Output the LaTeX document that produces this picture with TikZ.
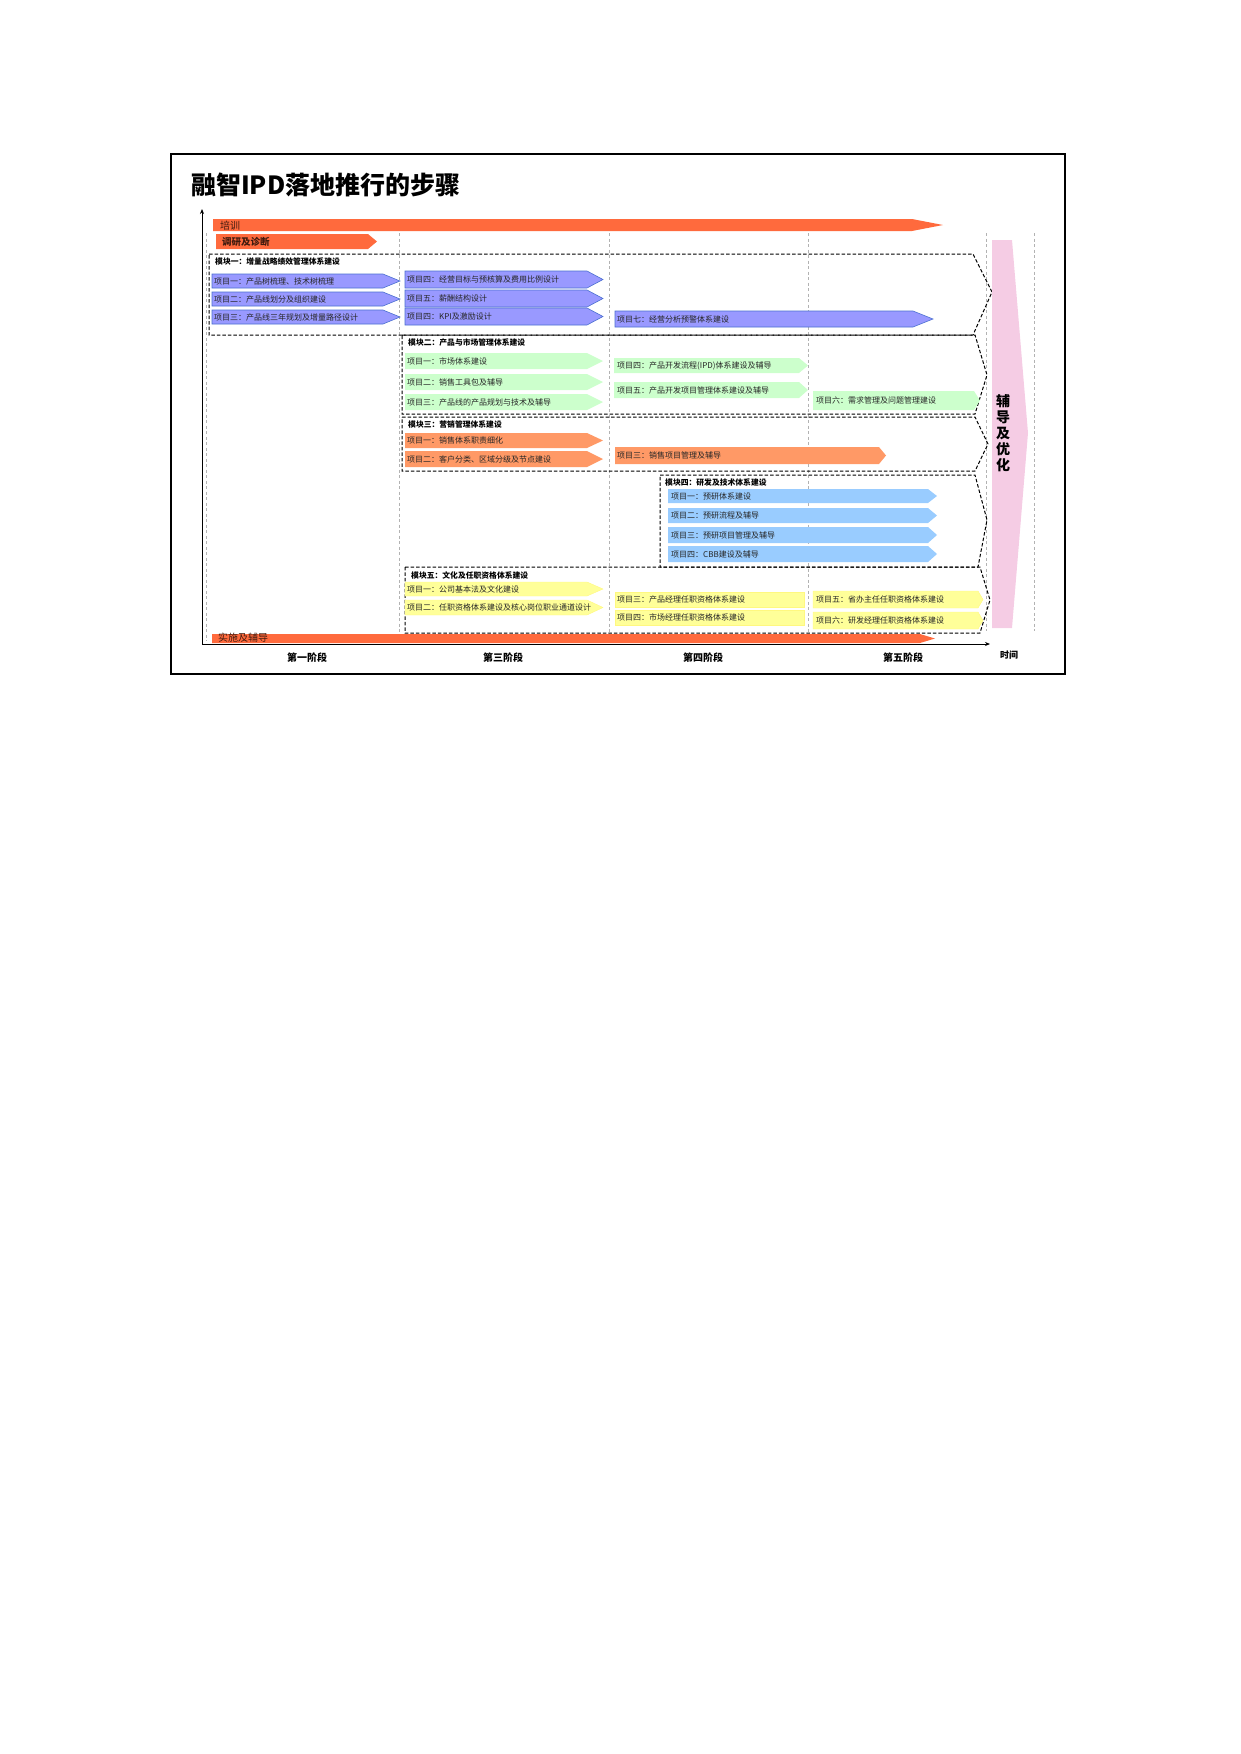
\documentclass[tikz,border=0pt]{standalone}
\usepackage{fontspec}
\setmainfont{Noto Sans CJK SC}
\usepackage{tikz}
\usetikzlibrary{backgrounds,arrows.meta}
\usepackage{xcolor}
\definecolor{barred}{HTML}{FF6A3D}
\definecolor{itemblue}{HTML}{9999FF}
\definecolor{lineblue}{HTML}{4A6FD0}
\definecolor{itemgreen}{HTML}{CCFFCC}
\definecolor{itemorange}{HTML}{FF9966}
\definecolor{itemsky}{HTML}{99CCFF}
\definecolor{itemyellow}{HTML}{FFFF99}
\definecolor{pinkbar}{HTML}{F5CCE4}

\begin{document}
\begin{tikzpicture}[x=1pt,y=-1pt,
          every node/.style={font=\fontsize{8}{9.5}\selectfont,inner sep=1pt},
          itemtext/.style={anchor=west,text=black!85},
          modtitle/.style={anchor=west,font=\fontsize{7.8}{9}\selectfont\bfseries},
          modbox/.style={draw=black,line width=1pt,dash pattern=on 3.5pt off 2pt},
          stagesep/.style={draw=gray!60,line width=0.6pt,dash pattern=on 3pt off 2.5pt},
          phase/.style={font=\fontsize{10}{12}\selectfont\bfseries},
          bartext/.style={anchor=west,text=barred!25!black,font=\fontsize{10}{12}\selectfont},
          blueitem/.style={fill=itemblue,draw=lineblue,line width=0.6pt},
          greenitem/.style={fill=itemgreen},
          orangeitem/.style={fill=itemorange},
          skyitem/.style={fill=itemsky},
          yellowitem/.style={fill=itemyellow,draw=yellow!50!white,line width=0.4pt},
        ]
        \useasboundingbox (0,0) rectangle (1240,1754);
        \draw[line width=1.3pt] (171,154) rectangle (1065,674);
        \node[anchor=west,font=\fontsize{25}{29}\selectfont\bfseries] (title) at (190,185) {融智IPD落地推行的步骤};

        % stage separators
        \foreach \x in {206,399,609,808} {
          \draw[stagesep] (\x,233) -- (\x,641);
        }
        \foreach \x in {986,1034} {
          \draw[stagesep] (\x,233) -- (\x,631);
        }

        % axes
        \coordinate (o) at (202,644);
        \coordinate (ytop) at (202,209);
        \coordinate (xend) at (990,644);
        \draw[line width=0.8pt,-{Stealth[length=5pt,width=4pt]}] (o) -- (ytop);
        \draw[line width=0.8pt,-{Stealth[length=5pt,width=4pt]}] (o) -- (xend);

        % long bars
        \fill[barred] (213,219) -- (912,219) -- (943,225) -- (912,231) -- (213,231) -- cycle;
        \node[bartext] (train) at (219,225.5) {培训};
        \fill[barred] (216,234) -- (368,234) -- (377,241.5) -- (368,249) -- (216,249) -- cycle;
        \node[bartext,font=\fontsize{9.5}{11}\selectfont\bfseries] (survey) at (221,241.5) {调研及诊断};
        \fill[barred] (212,634) -- (920,634) -- (935,638.5) -- (920,643) -- (212,643) -- cycle;
        \node[bartext] (impl) at (217,638) {实施及辅导};

        % module 1
        \draw[modbox] (209,254) -- (973,254) -- (992,292) -- (973,335) -- (209,335) -- cycle;
        \node[modtitle] (mod1) at (214,262) {模块一：增量战略绩效管理体系建设};
        \foreach \nm/\ya/\yb/\t in {m1a/274/288/{项目一：产品树梳理、技术树梳理},
            m1b/292/306/{项目二：产品线划分及组织建设},m1c/310/324/{项目三：产品线三年规划及增量路径设计}} {
          \filldraw[blueitem] (212,\ya) -- (383,\ya) -- (400,{(\ya+\yb)/2}) -- (383,\yb) -- (212,\yb) -- cycle;
          \node[itemtext] (\nm) at (213,{(\ya+\yb)/2}) {\t};
        }
        \foreach \nm/\ya/\yb/\t in {m1d/271/288/{项目四：经营目标与预核算及费用比例设计},
            m1e/290/307/{项目五：薪酬结构设计},m1f/308/325/{项目四：KPI及激励设计}} {
          \filldraw[blueitem] (405,\ya) -- (587,\ya) -- (603,{(\ya+\yb)/2}) -- (587,\yb) -- (405,\yb) -- cycle;
          \node[itemtext] (\nm) at (406,{(\ya+\yb)/2}) {\t};
        }
        \filldraw[blueitem] (615,311) -- (913,311) -- (933,319) -- (913,327) -- (615,327) -- cycle;
        \node[itemtext] (m1g) at (616,319) {项目七：经营分析预警体系建设};

        % module 2
        \draw[modbox] (402,335) -- (975,335) -- (987,375) -- (975,414) -- (402,414) -- cycle;
        \node[modtitle] (mod2) at (407,343) {模块二：产品与市场管理体系建设};
        \foreach \nm/\ya/\yb/\t in {m2a/353/369/{项目一：市场体系建设},
            m2b/374/390/{项目二：销售工具包及辅导},m2c/394/410/{项目三：产品线的产品规划与技术及辅导}} {
          \fill[greenitem] (405,\ya) -- (587,\ya) -- (603,{(\ya+\yb)/2}) -- (587,\yb) -- (405,\yb) -- cycle;
          \node[itemtext] (\nm) at (406,{(\ya+\yb)/2}) {\t};
        }
        \foreach \nm/\ya/\yb/\t in {m2d/358/373/{项目四：产品开发流程(IPD)体系建设及辅导},
            m2e/382/398/{项目五：产品开发项目管理体系建设及辅导}} {
          \fill[greenitem] (614,\ya) -- (799,\ya) -- (808,{(\ya+\yb)/2}) -- (799,\yb) -- (614,\yb) -- cycle;
          \node[itemtext] (\nm) at (616,{(\ya+\yb)/2}) {\t};
        }
        \fill[greenitem] (813,391) -- (974,391) -- (980,400.5) -- (974,410) -- (813,410) -- cycle;
        \node[itemtext] (m2f) at (815,400.5) {项目六：需求管理及问题管理建设};

        % module 3
        \draw[modbox] (402,417) -- (975,417) -- (988,444) -- (975,471) -- (402,471) -- cycle;
        \node[modtitle] (mod3) at (407,425) {模块三：营销管理体系建设};
        \foreach \nm/\ya/\yb/\t in {m3a/433/448/{项目一：销售体系职责细化},
            m3b/451/467/{项目二：客户分类、区域分级及节点建设}} {
          \fill[orangeitem] (405,\ya) -- (587,\ya) -- (603,{(\ya+\yb)/2}) -- (587,\yb) -- (405,\yb) -- cycle;
          \node[itemtext] (\nm) at (406,{(\ya+\yb)/2}) {\t};
        }
        \fill[orangeitem] (615,447) -- (879,447) -- (886,455.5) -- (879,464) -- (615,464) -- cycle;
        \node[itemtext] (m3c) at (616,455.5) {项目三：销售项目管理及辅导};

        % module 4
        \draw[modbox] (660,475) -- (975,475) -- (987,520) -- (978,567) -- (660,567) -- cycle;
        \node[modtitle] (mod4) at (664,483) {模块四：研发及技术体系建设};
        \foreach \nm/\ya/\yb/\t in {m4a/489/503/{项目一：预研体系建设},m4b/508/523/{项目二：预研流程及辅导},
            m4c/527/543/{项目三：预研项目管理及辅导},m4d/546/562/{项目四：CBB建设及辅导}} {
          \fill[skyitem] (668,\ya) -- (928,\ya) -- (937,{(\ya+\yb)/2}) -- (928,\yb) -- (668,\yb) -- cycle;
          \node[itemtext] (\nm) at (670,{(\ya+\yb)/2}) {\t};
        }

        % module 5
        \draw[modbox] (405,567) -- (980,567) -- (990,600) -- (980,633) -- (405,633) -- cycle;
        \node[modtitle] (mod5) at (410,575) {模块五：文化及任职资格体系建设};
        \foreach \nm/\ya/\yb/\t in {m5a/582/596/{项目一：公司基本法及文化建设},
            m5b/600/615/{项目二：任职资格体系建设及核心岗位职业通道设计}} {
          \filldraw[yellowitem] (405,\ya) -- (587,\ya) -- (603,{(\ya+\yb)/2}) -- (587,\yb) -- (405,\yb) -- cycle;
          \node[itemtext] (\nm) at (406,{(\ya+\yb)/2}) {\t};
        }
        \foreach \nm/\ya/\yb/\t in {m5c/592/607/{项目三：产品经理任职资格体系建设},
            m5d/610/625/{项目四：市场经理任职资格体系建设}} {
          \filldraw[yellowitem] (615,\ya) rectangle (804,\yb);
          \node[itemtext] (\nm) at (616,{(\ya+\yb)/2}) {\t};
        }
        \foreach \nm/\ya/\yb/\t in {m5e/591/608/{项目五：省办主任任职资格体系建设},
            m5f/612/629/{项目六：研发经理任职资格体系建设}} {
          \filldraw[yellowitem] (813,\ya) -- (978,\ya) -- (983,{(\ya+\yb)/2}) -- (978,\yb) -- (813,\yb) -- cycle;
          \node[itemtext] (\nm) at (815,{(\ya+\yb)/2}) {\t};
        }

        % coaching arrow
        \fill[pinkbar] (992,240) -- (1012,240) -- (1028,433) -- (1012,628) -- (992,628) -- cycle;
        \node[font=\fontsize{14}{16}\selectfont\bfseries,align=center] (coach) at (1003,433) {辅\\导\\及\\优\\化};

        % stages
        \node[phase] (ph1) at (307,658) {第一阶段};
        \node[phase] (ph3) at (503,658) {第三阶段};
        \node[phase] (ph4) at (703,658) {第四阶段};
        \node[phase] (ph5) at (903,658) {第五阶段};
        \node[font=\fontsize{9}{11}\selectfont\bfseries] (time) at (1009,655) {时间};
      \end{tikzpicture}
\end{document}
